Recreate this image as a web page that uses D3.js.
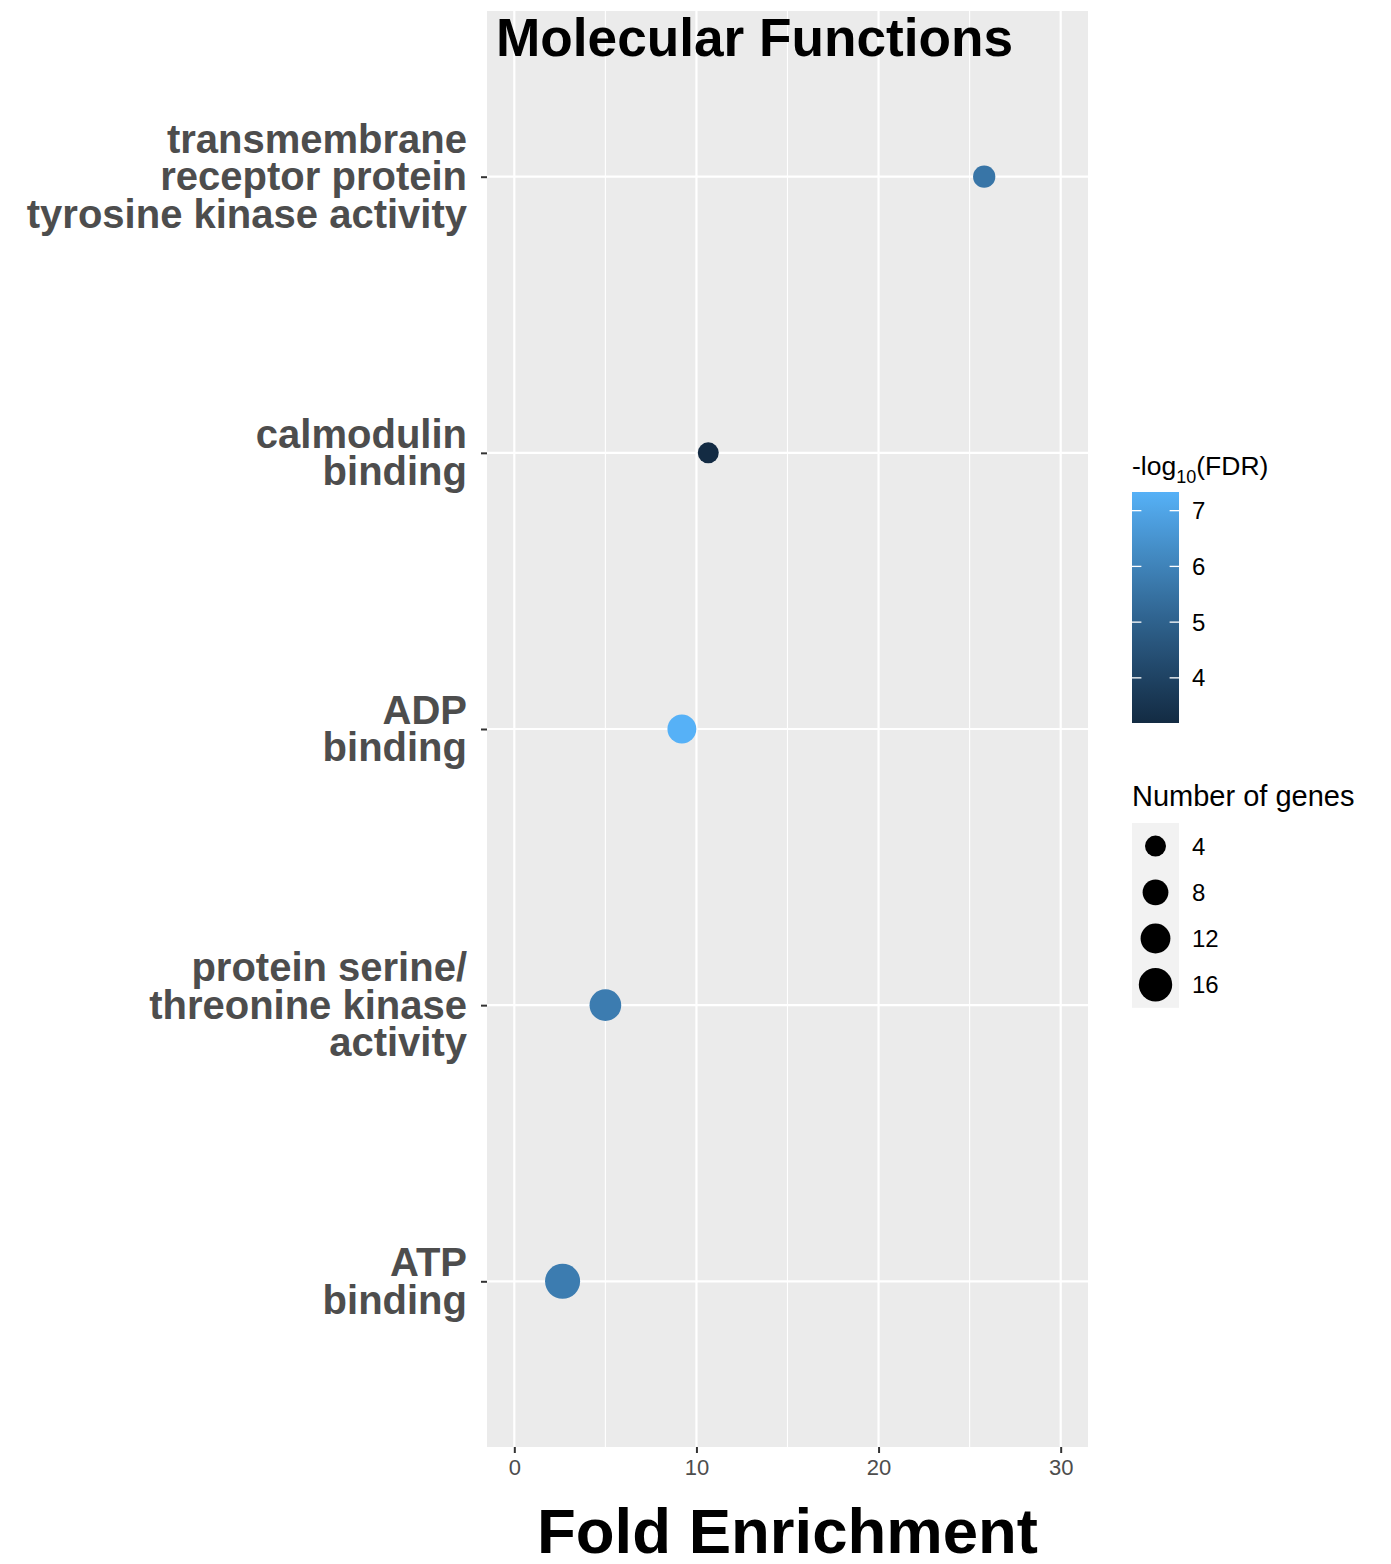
<!DOCTYPE html>
<html>
<head>
<meta charset="utf-8">
<script src="https://cdn.jsdelivr.net/npm/d3@7"></script>
<style>
  html, body { margin: 0; padding: 0; background: #ffffff; }
  svg { display: block; }
  text { font-family: "Liberation Sans", Arial, Helvetica, sans-serif; }
</style>
</head>
<body>
<svg id="chart" width="1391" height="1564"></svg>
<script>
// GO molecular-function terms (top to bottom), each label split into lines
const terms = [
  ["transmembrane", "receptor protein", "tyrosine kinase activity"],
  ["calmodulin", "binding"],
  ["ADP", "binding"],
  ["protein serine/", "threonine kinase", "activity"],
  ["ATP", "binding"]
];
const foldEnrichment = [25.8, 10.65, 9.2, 5.0, 2.65];
const negLog10FDR = [5.6, 3.19, 7.335, 5.8, 5.8];
const geneCount = [5, 4, 11, 14, 18];

const xTicks = [0, 10, 20, 30];
const xMinorTicks = [5, 15, 25];
const colorTicks = [4, 5, 6, 7];
const sizeBreaks = [4, 8, 12, 16];

const svg = d3.select("#chart");
const font = '"Liberation Sans", Arial, Helvetica, sans-serif';

// panel geometry
const panel = { left: 487, right: 1088, top: 11, bottom: 1447 };

const x = d3.scaleLinear().domain([-1.5, 31.5]).range([panel.left, panel.right]);
const termKeys = terms.map(t => t.join(" "));
const y = d3.scalePoint().domain(termKeys).range([panel.top, panel.bottom]).padding(0.6);

const colorDomain = [d3.min(negLog10FDR), d3.max(negLog10FDR)];
const color = d3.scaleLinear().domain(colorDomain).range(["#132B43", "#56B1F7"])
  .interpolate(d3.interpolateLab);

// point radius: area grows linearly with the gene count
const areaScale = d3.scaleLinear().domain([4, 16]).range([110, 279]);
const radius = v => Math.sqrt(areaScale(v));

// panel background
svg.append("rect")
  .attr("x", panel.left).attr("y", panel.top)
  .attr("width", panel.right - panel.left).attr("height", panel.bottom - panel.top)
  .attr("fill", "#EBEBEB");

// minor grid
svg.append("g").selectAll("line").data(xMinorTicks).join("line")
  .attr("x1", d => x(d)).attr("x2", d => x(d))
  .attr("y1", panel.top).attr("y2", panel.bottom)
  .attr("stroke", "#ffffff").attr("stroke-width", 1.1);

// major grid
svg.append("g").selectAll("line").data(xTicks).join("line")
  .attr("x1", d => x(d)).attr("x2", d => x(d))
  .attr("y1", panel.top).attr("y2", panel.bottom)
  .attr("stroke", "#ffffff").attr("stroke-width", 2.2);
svg.append("g").selectAll("line").data(termKeys).join("line")
  .attr("x1", panel.left).attr("x2", panel.right)
  .attr("y1", d => y(d)).attr("y2", d => y(d))
  .attr("stroke", "#ffffff").attr("stroke-width", 2.2);

// x axis
const xAxis = svg.append("g")
  .attr("transform", `translate(0,${panel.bottom})`)
  .call(d3.axisBottom(x).tickValues(xTicks).tickSize(6).tickPadding(6).tickFormat(d3.format("d")));
xAxis.select(".domain").remove();
xAxis.selectAll(".tick line").attr("stroke", "#333333").attr("stroke-width", 2);
xAxis.selectAll(".tick text")
  .attr("fill", "#4D4D4D").attr("font-size", 22).attr("font-family", font)
  .attr("dy", "0.71em");

// y axis (ticks only, labels drawn as multi-line text)
const yAxis = svg.append("g")
  .attr("transform", `translate(${panel.left},0)`)
  .call(d3.axisLeft(y).tickSize(6).tickFormat(""));
yAxis.select(".domain").remove();
yAxis.selectAll(".tick line").attr("stroke", "#333333").attr("stroke-width", 2);

const lineStep = 37.5;
const yLabels = svg.append("g");
terms.forEach((lines, i) => {
  const cy = y(termKeys[i]);
  const t = yLabels.append("text")
    .attr("text-anchor", "end")
    .attr("font-family", font)
    .attr("font-weight", "bold")
    .attr("font-size", 40)
    .attr("fill", "#4D4D4D");
  lines.forEach((ln, j) => {
    t.append("tspan")
      .attr("x", 467)
      .attr("y", cy + (j - (lines.length - 1) / 2) * lineStep + 13.5)
      .text(ln);
  });
});

// points
svg.append("g").selectAll("circle").data(termKeys).join("circle")
  .attr("cx", (d, i) => x(foldEnrichment[i]))
  .attr("cy", d => y(d))
  .attr("r", (d, i) => radius(geneCount[i]))
  .attr("fill", (d, i) => color(negLog10FDR[i]));

// title
svg.append("text")
  .attr("x", 496).attr("y", 56)
  .attr("font-family", font).attr("font-weight", "bold").attr("font-size", 53.2)
  .attr("fill", "#000000")
  .text("Molecular Functions");

// x axis title
svg.append("text")
  .attr("x", (panel.left + panel.right) / 2).attr("y", 1553)
  .attr("text-anchor", "middle")
  .attr("font-family", font).attr("font-weight", "bold").attr("font-size", 63.5)
  .attr("fill", "#000000")
  .text("Fold Enrichment");

// colour bar legend
const bar = { x: 1132, w: 47, top: 492, bottom: 723 };
const cb = d3.scaleLinear().domain(colorDomain).range([bar.bottom, bar.top]);
const defs = svg.append("defs");
const grad = defs.append("linearGradient").attr("id", "fdrGrad")
  .attr("x1", 0).attr("y1", 1).attr("x2", 0).attr("y2", 0);
d3.range(0, 1.0001, 0.05).forEach(t => {
  grad.append("stop").attr("offset", t)
    .attr("stop-color", color(colorDomain[0] + t * (colorDomain[1] - colorDomain[0])));
});
const legendTitle = svg.append("text")
  .attr("x", bar.x).attr("y", 475)
  .attr("font-family", font).attr("font-size", 26.5).attr("fill", "#000000");
legendTitle.append("tspan").text("-log");
legendTitle.append("tspan").attr("font-size", 18).attr("dy", 8).text("10");
legendTitle.append("tspan").attr("dy", -8).text("(FDR)");

svg.append("rect")
  .attr("x", bar.x).attr("y", bar.top)
  .attr("width", bar.w).attr("height", bar.bottom - bar.top)
  .attr("fill", "url(#fdrGrad)");
const cTicks = svg.append("g");
colorTicks.forEach(v => {
  const ty = cb(v);
  cTicks.append("line").attr("x1", bar.x).attr("x2", bar.x + 9.4)
    .attr("y1", ty).attr("y2", ty).attr("stroke", "#ffffff").attr("stroke-width", 1.3);
  cTicks.append("line").attr("x1", bar.x + bar.w - 9.4).attr("x2", bar.x + bar.w)
    .attr("y1", ty).attr("y2", ty).attr("stroke", "#ffffff").attr("stroke-width", 1.3);
  cTicks.append("text").attr("x", 1192).attr("y", ty + 8.5)
    .attr("font-family", font).attr("font-size", 24).attr("fill", "#000000")
    .text(v);
});

// size legend
svg.append("text")
  .attr("x", 1132).attr("y", 806)
  .attr("font-family", font).attr("font-size", 29).attr("fill", "#000000")
  .text("Number of genes");
const keyTop = 823, keyH = 46.2;
svg.append("rect")
  .attr("x", 1132).attr("y", keyTop)
  .attr("width", 47).attr("height", keyH * sizeBreaks.length)
  .attr("fill", "#F2F2F2");
const sKeys = svg.append("g");
sizeBreaks.forEach((v, i) => {
  const cy = keyTop + keyH * (i + 0.5);
  sKeys.append("circle").attr("cx", 1155.5).attr("cy", cy)
    .attr("r", radius(v)).attr("fill", "#000000");
  sKeys.append("text").attr("x", 1192).attr("y", cy + 8.5)
    .attr("font-family", font).attr("font-size", 24).attr("fill", "#000000")
    .text(v);
});
</script>
</body>
</html>
